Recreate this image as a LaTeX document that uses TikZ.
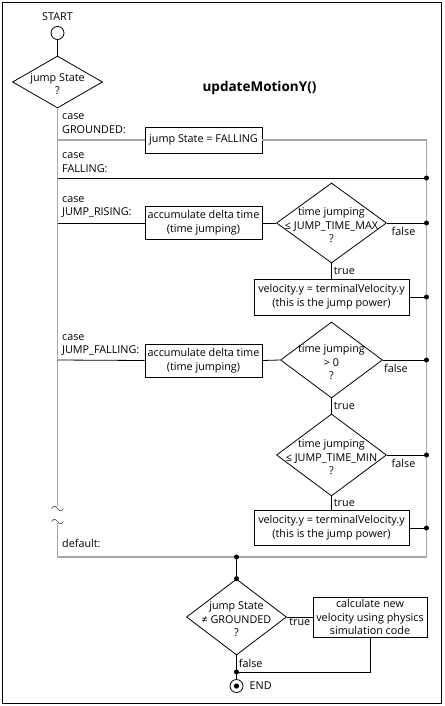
\documentclass[tikz,border=0pt]{standalone}
\usepackage{fontspec}
\setmainfont{Open Sans}
\usetikzlibrary{positioning, shapes.geometric}

% texto centrado dentro de un rombo, sin que cambie su tamano
\newcommand{\rtxt}[1]{\smash{\raisebox{-6pt}{\makebox[0pt]{\begin{tabular}{@{}c@{}}#1\end{tabular}}}}}

\begin{document}
\begin{tikzpicture}[x=1pt, y=-1pt,
		every node/.style={text=black, font=\fontsize{10.8}{13.8}\selectfont},
		caja/.style={rectangle, draw, line width=0.8pt, inner sep=2pt, align=center},
		rombo/.style={diamond, draw, line width=0.8pt, inner sep=0pt},
		caso/.style={anchor=west, align=left, inner sep=0pt},
		etq/.style={inner sep=2pt},
		punto/.style={circle, fill=black, inner sep=0pt, minimum size=5pt},
		circulo/.style={circle, draw, line width=0.8pt, inner sep=0pt, minimum size=13pt},
		linea/.style={draw=black, line width=0.8pt},
		gris/.style={draw=gray!70, line width=1.4pt},
		corte/.style={draw=black!75, line width=0.6pt}
		]
		\useasboundingbox (0,0) rectangle (444,706);
		\draw[line width=0.8pt] (2.5,2.5) rectangle (441,703.5);
		
		% inicio y titulo
		\node[inner sep=0pt] (start) at (57.5,17) {START};
		\node[circulo] (ini) at (57.5,33) {};
		\node[rombo, minimum width=90pt, minimum height=52pt] (est) at (57.5,82) {\rtxt{jump State\\?}};
		\node[font=\bfseries\fontsize{13.5}{16}\selectfont] (tit) at (259.5,88) {updateMotionY()};
		
		% puntos del eje izquierdo
		\coordinate (sgr) at (57.5,140);
		\coordinate (sfa) at (57.5,178);
		\coordinate (sri) at (57.5,223);
		\coordinate (sjf) at (57.5,360);
		\coordinate (sc1) at (57.5,506);
		\coordinate (sc2) at (57.5,523);
		\coordinate (sde) at (57.5,557);
		
		% puntos del eje derecho
		\coordinate (rgr) at (426.5,140);
		\coordinate (rfa) at (426.5,178);
		\coordinate (rri) at (426.5,223);
		\coordinate (rv1) at (426.5,297);
		\coordinate (rjf) at (426.5,360);
		\coordinate (rmi) at (426.5,455);
		\coordinate (rv2) at (426.5,528);
		\coordinate (rde) at (426.5,557);
		
		% etiquetas de los casos
		\node[caso] (cgr) at (62,124) {case\\GROUNDED:};
		\node[caso] (cfa) at (62,163) {case\\FALLING:};
		\node[caso] (cri) at (62,207) {case\\JUMP\_RISING:};
		\node[caso] (cjf) at (62,345) {case\\JUMP\_FALLING:};
		\node[caso] (cde) at (62,543) {default:};
		
		% caso GROUNDED
		\node[caja, minimum width=117pt, minimum height=26pt] (fall) at (203.5,140) {jump State = FALLING};
		
		% caso JUMP_RISING
		\node[caja, minimum width=117pt, minimum height=33pt] (acc1) at (203.5,223) {accumulate delta time\\(time jumping)};
		\node[rombo, minimum width=110pt, minimum height=80pt] (dmax) at (331.5,223) {\rtxt{time jumping\\≤ JUMP\_TIME\_MAX\\?}};
		\node[caja, minimum width=155pt, minimum height=36pt] (vel1) at (331.5,297) {velocity.y = terminalVelocity.y\\(this is the jump power)};
		
		% caso JUMP_FALLING
		\node[caja, minimum width=117pt, minimum height=33pt] (acc2) at (203.5,360.5) {accumulate delta time\\(time jumping)};
		\node[rombo, minimum width=102pt, minimum height=76pt] (dcero) at (331.5,360) {\rtxt{time jumping\\> 0\\?}};
		\node[rombo, minimum width=110pt, minimum height=82pt] (dmin) at (331.5,455) {\rtxt{time jumping\\≤ JUMP\_TIME\_MIN\\?}};
		\node[caja, minimum width=155pt, minimum height=35pt] (vel2) at (331.5,528) {velocity.y = terminalVelocity.y\\(this is the jump power)};
		
		% parte final
		\coordinate (bj) at (236.5,557);
		\node[rombo, minimum width=100pt, minimum height=76pt] (dgr) at (236.5,617) {\rtxt{jump State\\≠ GROUNDED\\?}};
		\node[caja, minimum width=114pt, minimum height=40pt] (calc) at (370,617) {calculate new\\velocity using physics\\simulation code};
		\coordinate (bf) at (236.5,672);
		\node[circulo, path picture={\fill (path picture bounding box.center) circle (2.6pt);}] (fin) at (236.5,686) {};
		\node[right=6pt of fin, inner sep=0pt] (end) {END};
		
		% lineas grises
		\draw[gris] (est.south) -- (sc1);
		\draw[gris] (sgr) -- (fall.west);
		\draw[gris] (fall.east) -- (rgr) -- (rde) -- (sde) -- (sc2);
		\draw[corte] (51.5,508.5) sin (54.5,506.25) cos (57.5,508.5) sin (60.5,510.75) cos (63.5,508.5);
		\draw[corte] (51.5,521.5) sin (54.5,519.25) cos (57.5,521.5) sin (60.5,523.75) cos (63.5,521.5);
		
		% lineas negras
		\draw[linea] (ini) -- (est);
		\draw[linea] (sfa) -- (rfa);
		
		\draw[linea] (sri) -- (acc1.west);
		\draw[linea] (acc1.east) -- (dmax.west);
		\draw[linea] (dmax.east) -- node[etq, below=1.5pt, pos=0.42] {false} (rri);
		\draw[linea] (dmax.south) -- node[etq, right] {true} (vel1.north);
		\draw[linea] (vel1.east) -- (rv1);
		
		\draw[linea] (sjf) -- (acc2.west);
		\draw[linea] (acc2.east) -- (dcero.west);
		\draw[linea] (dcero.east) -- node[etq, below=1.5pt, pos=0.3] {false} (rjf);
		\draw[linea] (dcero.south) -- node[etq, right] {true} (dmin.north);
		\draw[linea] (dmin.east) -- node[etq, below=1.5pt, pos=0.42] {false} (rmi);
		\draw[linea] (dmin.south) -- node[etq, right] {true} (vel2.north);
		\draw[linea] (vel2.east) -- (rv2);
		
		\draw[linea] (bj) -- (dgr.north);
		\draw[linea] (dgr.east) -- node[etq, below, inner sep=1pt] {true} (calc.west);
		\draw[linea] (calc.south) |- (bf);
		\draw[linea] (dgr.south) -- node[etq, right] {false} (bf);
		\draw[linea] (bf) -- (fin);
		
		% puntos de union
		\node[punto] (p1) at (rfa) {};
		\node[punto] (p2) at (rri) {};
		\node[punto] (p3) at (rv1) {};
		\node[punto] (p4) at (rjf) {};
		\node[punto] (p5) at (rmi) {};
		\node[punto] (p6) at (rv2) {};
		\node[punto] (p7) at (bj) {};
		\node[punto] (p8) at (dgr.north) {};
		\node[punto] (p9) at (bf) {};
		
	\end{tikzpicture}
\end{document}
